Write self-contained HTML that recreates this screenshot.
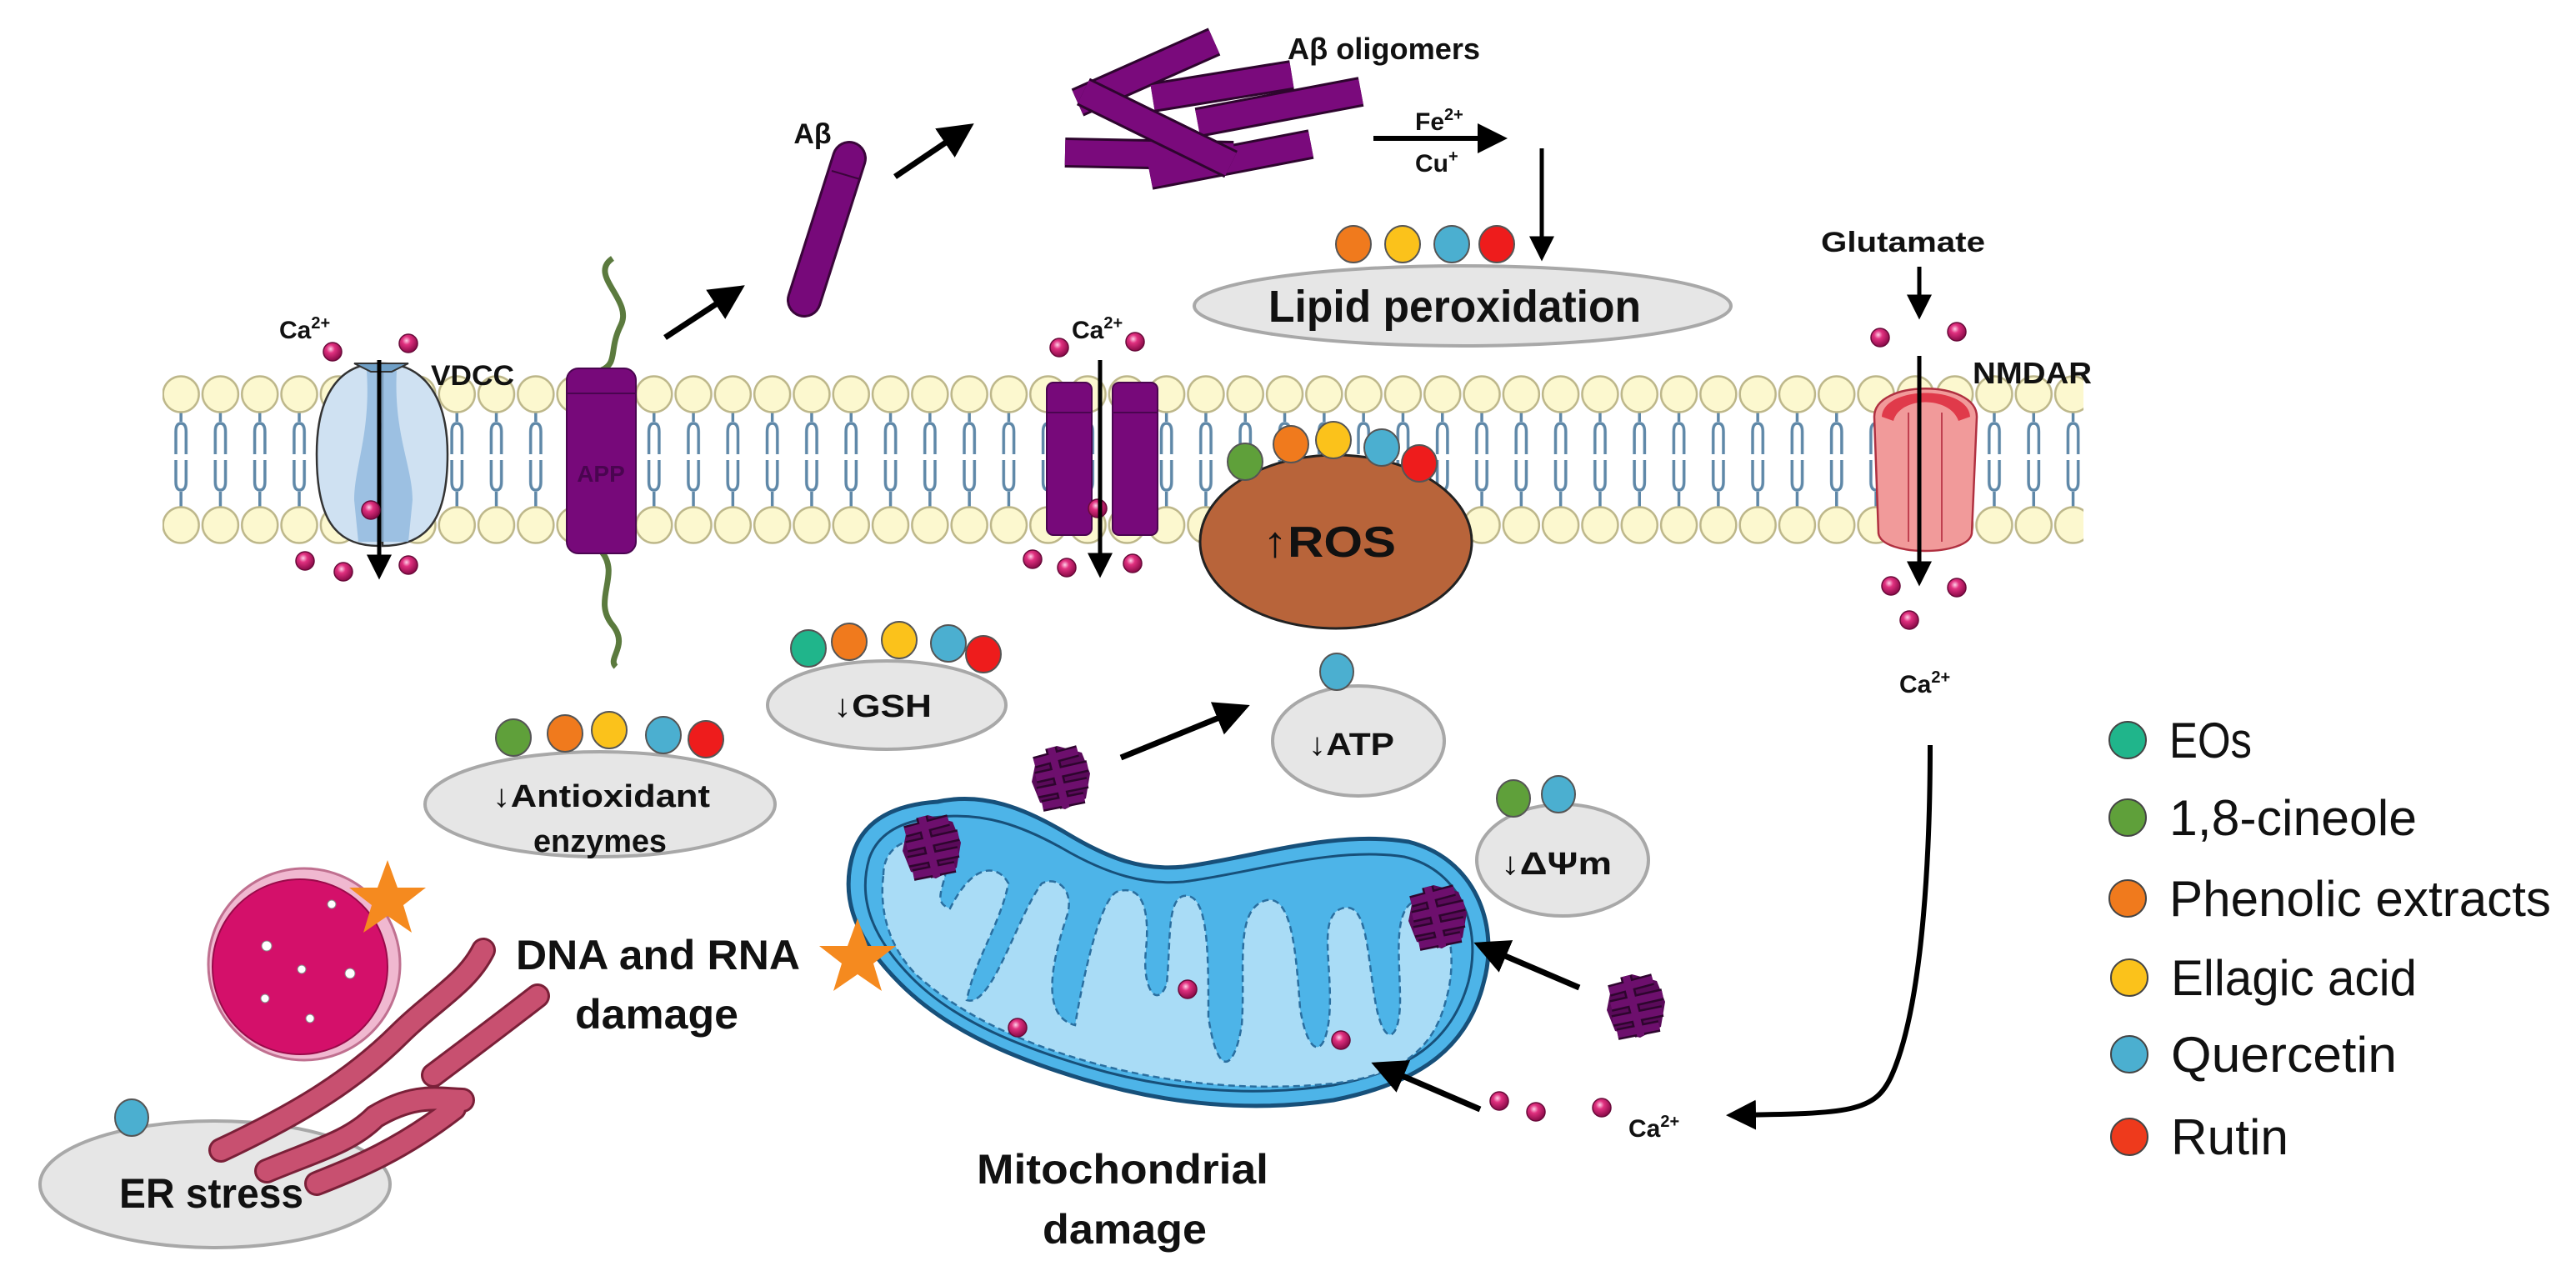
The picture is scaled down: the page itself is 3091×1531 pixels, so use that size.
<!DOCTYPE html>
<html><head><meta charset="utf-8"><style>
html,body{margin:0;padding:0;background:#fff}
svg{display:block}
text{font-family:"Liberation Sans",sans-serif;fill:#111}
.b{font-weight:bold}
</style></head><body>
<svg width="3091" height="1531" viewBox="0 0 3091 1531" xmlns="http://www.w3.org/2000/svg">
<defs>
<pattern id="mem" patternUnits="userSpaceOnUse" x="193.5" y="440" width="47.3" height="213">
<path d="M23.65,54 L23.65,66 M17.5,105 L17.5,78 Q17.5,68 23.65,68 Q29.8,68 29.8,78 L29.8,105 M17.5,112 L17.5,138 Q17.5,148 23.65,148 Q29.8,148 29.8,138 L29.8,112 M23.65,150 L23.65,168" fill="none" stroke="#5f88a8" stroke-width="3.5"/>
<circle cx="23.65" cy="33" r="21.5" fill="#fcf8cf" stroke="#bdb78a" stroke-width="2.5"/>
<circle cx="23.65" cy="190" r="21.5" fill="#fcf8cf" stroke="#bdb78a" stroke-width="2.5"/>
</pattern>
<marker id="ah" markerWidth="6" markerHeight="6" refX="4.5" refY="3" orient="auto" markerUnits="strokeWidth"><path d="M0,0 L6,3 L0,6 Z" fill="#000"/></marker>
<radialGradient id="ca" cx="40%" cy="35%" r="65%"><stop offset="0" stop-color="#ffd0e8"/><stop offset="0.35" stop-color="#e0307f"/><stop offset="1" stop-color="#8a0a48"/></radialGradient>
<g id="dot"><circle r="11" fill="url(#ca)" stroke="#6a0a3a" stroke-width="1.5"/></g>
<g id="olig">
<path d="M-30,-20 L-5,-38 L25,-30 L35,-5 L30,25 L5,38 L-25,30 L-35,5 Z" fill="#5a0a5a"/>
<g stroke="#2e052e" stroke-width="14" stroke-linecap="butt">
<line x1="-32" y1="-18" x2="20" y2="-32"/><line x1="-30" y1="0" x2="32" y2="-14"/><line x1="-28" y1="18" x2="32" y2="6"/><line x1="-22" y1="34" x2="28" y2="24"/><line x1="-12" y1="-36" x2="6" y2="36"/></g>
<g stroke="#6d0f6d" stroke-width="9">
<line x1="-32" y1="-18" x2="20" y2="-32"/><line x1="-30" y1="0" x2="32" y2="-14"/><line x1="-28" y1="18" x2="32" y2="6"/><line x1="-22" y1="34" x2="28" y2="24"/><line x1="-12" y1="-36" x2="6" y2="36"/></g>
</g>
</defs>

<!-- membrane -->
<rect x="195" y="440" width="2305" height="213" fill="url(#mem)"/>

<!-- VDCC -->
<path d="M455,436 C410,436 380,470 380,545 C380,620 400,655 455,655 Z" fill="#cfe1f2" stroke="#333" stroke-width="2.5"/>
<path d="M459,436 C504,436 537,470 537,545 C537,620 515,655 459,655 Z" fill="#cfe1f2" stroke="#333" stroke-width="2.5"/>
<path d="M440,445 C445,520 425,560 425,600 L430,650 L490,650 L495,600 C495,560 472,520 476,445 Z" fill="#8fb8dd" opacity="0.8"/>
<path d="M425,436 L490,436 L470,446 L445,446 Z" fill="#6f9fc6" stroke="#333" stroke-width="2"/>
<line x1="455" y1="432" x2="455" y2="688" stroke="#000" stroke-width="5" marker-end="url(#ah)"/>
<use href="#dot" x="445" y="612"/>
<use href="#dot" x="399" y="422"/><use href="#dot" x="490" y="412"/>
<use href="#dot" x="366" y="673"/><use href="#dot" x="412" y="686"/><use href="#dot" x="490" y="678"/>
<text x="335" y="406" class="b" font-size="30">Ca<tspan font-size="20" dy="-12">2+</tspan></text>
<text x="517" y="462" class="b" font-size="34" textLength="100" lengthAdjust="spacingAndGlyphs">VDCC</text>

<!-- APP -->
<path d="M735,310 C705,330 760,360 745,390 C730,420 742,435 722,444" fill="none" stroke="#5b7a3e" stroke-width="7"/>
<path d="M722,662 C745,690 710,720 735,750 C755,775 728,790 739,800" fill="none" stroke="#5b7a3e" stroke-width="7"/>
<rect x="680" y="442" width="83" height="222" rx="14" fill="#77097a" stroke="#4a0550" stroke-width="2"/>
<line x1="681" y1="472" x2="762" y2="472" stroke="#4a0550" stroke-width="2"/>
<text x="721" y="578" text-anchor="middle" class="b" font-size="28" style="fill:#4a0550">APP</text>

<!-- arrows top -->
<line x1="798" y1="405" x2="885" y2="348" stroke="#000" stroke-width="7" marker-end="url(#ah)"/>
<line x1="1074" y1="212" x2="1160" y2="154" stroke="#000" stroke-width="7" marker-end="url(#ah)"/>

<!-- Abeta monomer -->
<line x1="1019" y1="190" x2="965" y2="360" stroke="#3a053a" stroke-width="42" stroke-linecap="round"/>
<line x1="1019" y1="190" x2="965" y2="360" stroke="#77097a" stroke-width="36" stroke-linecap="round"/>
<line x1="998" y1="205" x2="1032" y2="215" stroke="#3a053a" stroke-width="2"/>
<text x="975" y="172" text-anchor="middle" class="b" font-size="34">Aβ</text>

<!-- oligomers -->
<g stroke-linecap="butt">
<g stroke="#2e052e" stroke-width="36">
<line x1="1293" y1="123" x2="1457" y2="50"/>
<line x1="1383" y1="117" x2="1550" y2="90"/>
<line x1="1437" y1="147" x2="1633" y2="110"/>
<line x1="1278" y1="183" x2="1480" y2="187"/>
<line x1="1380" y1="210" x2="1573" y2="173"/>
<line x1="1300" y1="110" x2="1477" y2="197"/>
</g>
<g stroke="#7a0a7c" stroke-width="30">
<line x1="1293" y1="123" x2="1457" y2="50"/>
<line x1="1383" y1="117" x2="1550" y2="90"/>
<line x1="1437" y1="147" x2="1633" y2="110"/>
<line x1="1278" y1="183" x2="1480" y2="187"/>
<line x1="1380" y1="210" x2="1573" y2="173"/>
</g>
<line x1="1300" y1="110" x2="1477" y2="197" stroke="#2e052e" stroke-width="36"/>
<line x1="1300" y1="110" x2="1477" y2="197" stroke="#7a0a7c" stroke-width="30"/>
</g>
<text x="1545" y="71" class="b" font-size="36" textLength="231" lengthAdjust="spacingAndGlyphs">Aβ oligomers</text>

<!-- Fe arrow -->
<line x1="1648" y1="166" x2="1800" y2="166" stroke="#000" stroke-width="6" marker-end="url(#ah)"/>
<text x="1698" y="156" class="b" font-size="30">Fe<tspan font-size="20" dy="-12">2+</tspan></text>
<text x="1698" y="206" class="b" font-size="30">Cu<tspan font-size="20" dy="-12">+</tspan></text>
<line x1="1850" y1="178" x2="1850" y2="306" stroke="#000" stroke-width="5" marker-end="url(#ah)"/>

<!-- lipid peroxidation -->
<ellipse cx="1755" cy="367" rx="322" ry="48" fill="#e6e6e6" stroke="#a8a8a8" stroke-width="4"/>
<text x="1522" y="386" class="b" font-size="54" textLength="447" lengthAdjust="spacingAndGlyphs">Lipid peroxidation</text>
<ellipse cx="1624" cy="293" rx="21" ry="22" fill="#f07a1d" stroke="#555" stroke-width="2"/>
<ellipse cx="1683" cy="293" rx="21" ry="22" fill="#fbc21b" stroke="#555" stroke-width="2"/>
<ellipse cx="1742" cy="293" rx="21" ry="22" fill="#4bafd0" stroke="#555" stroke-width="2"/>
<ellipse cx="1796" cy="293" rx="21" ry="22" fill="#ee1c1c" stroke="#555" stroke-width="2"/>

<!-- second channel -->
<rect x="1256" y="459" width="54" height="183" rx="8" fill="#77097a" stroke="#4a0550" stroke-width="2"/>
<rect x="1335" y="459" width="54" height="183" rx="8" fill="#77097a" stroke="#4a0550" stroke-width="2"/>
<line x1="1257" y1="495" x2="1309" y2="495" stroke="#4a0550" stroke-width="2"/>
<line x1="1336" y1="495" x2="1388" y2="495" stroke="#4a0550" stroke-width="2"/>
<use href="#dot" x="1317" y="610"/>
<line x1="1320" y1="432" x2="1320" y2="686" stroke="#000" stroke-width="5" marker-end="url(#ah)"/>
<use href="#dot" x="1271" y="417"/><use href="#dot" x="1362" y="410"/>
<use href="#dot" x="1239" y="671"/><use href="#dot" x="1280" y="681"/><use href="#dot" x="1359" y="676"/>
<text x="1286" y="406" class="b" font-size="30">Ca<tspan font-size="20" dy="-12">2+</tspan></text>

<!-- ROS -->
<ellipse cx="1603" cy="650" rx="163" ry="104" fill="#b8643a" stroke="#222" stroke-width="3"/>
<text x="1515" y="668" class="b" font-size="52" textLength="160" lengthAdjust="spacingAndGlyphs">↑ROS</text>
<ellipse cx="1494" cy="554" rx="21" ry="22" fill="#5fa03a" stroke="#555" stroke-width="2"/>
<ellipse cx="1549" cy="533" rx="21" ry="22" fill="#f07a1d" stroke="#555" stroke-width="2"/>
<ellipse cx="1600" cy="528" rx="21" ry="22" fill="#fbc21b" stroke="#555" stroke-width="2"/>
<ellipse cx="1658" cy="537" rx="21" ry="22" fill="#4bafd0" stroke="#555" stroke-width="2"/>
<ellipse cx="1703" cy="556" rx="21" ry="22" fill="#ee1c1c" stroke="#555" stroke-width="2"/>

<!-- NMDAR -->
<path d="M2249,500 C2249,455 2372,455 2372,500 L2366,640 C2362,668 2258,668 2254,640 Z" fill="#f19a9a" stroke="#b03040" stroke-width="2.5"/>
<path d="M2258,500 C2260,462 2362,462 2364,500 L2350,505 C2340,475 2280,475 2272,505 Z" fill="#e03a4a"/>
<line x1="2290" y1="495" x2="2290" y2="650" stroke="#c04050" stroke-width="2"/>
<line x1="2330" y1="495" x2="2330" y2="650" stroke="#c04050" stroke-width="2"/>
<line x1="2303" y1="427" x2="2303" y2="696" stroke="#000" stroke-width="5" marker-end="url(#ah)"/>
<text x="2185" y="302" class="b" font-size="34" textLength="197" lengthAdjust="spacingAndGlyphs">Glutamate</text>
<line x1="2303" y1="320" x2="2303" y2="376" stroke="#000" stroke-width="5" marker-end="url(#ah)"/>
<use href="#dot" x="2256" y="405"/><use href="#dot" x="2348" y="398"/>
<use href="#dot" x="2269" y="703"/><use href="#dot" x="2348" y="705"/><use href="#dot" x="2291" y="744"/>
<text x="2367" y="460" class="b" font-size="36" textLength="143" lengthAdjust="spacingAndGlyphs">NMDAR</text>
<text x="2279" y="831" class="b" font-size="30">Ca<tspan font-size="20" dy="-12">2+</tspan></text>

<!-- GSH -->
<ellipse cx="1064" cy="846" rx="143" ry="53" fill="#e6e6e6" stroke="#a8a8a8" stroke-width="4"/>
<text x="1000" y="860" class="b" font-size="38" textLength="118" lengthAdjust="spacingAndGlyphs">↓GSH</text>
<ellipse cx="970" cy="778" rx="21" ry="22" fill="#20b58b" stroke="#555" stroke-width="2"/>
<ellipse cx="1019" cy="770" rx="21" ry="22" fill="#f07a1d" stroke="#555" stroke-width="2"/>
<ellipse cx="1079" cy="768" rx="21" ry="22" fill="#fbc21b" stroke="#555" stroke-width="2"/>
<ellipse cx="1138" cy="772" rx="21" ry="22" fill="#4bafd0" stroke="#555" stroke-width="2"/>
<ellipse cx="1180" cy="785" rx="21" ry="22" fill="#ee1c1c" stroke="#555" stroke-width="2"/>

<!-- Antioxidant -->
<ellipse cx="720" cy="965" rx="210" ry="63" fill="#e6e6e6" stroke="#a8a8a8" stroke-width="4"/>
<text x="591" y="968" class="b" font-size="38" textLength="261" lengthAdjust="spacingAndGlyphs">↓Antioxidant</text>
<text x="640" y="1022" class="b" font-size="38" textLength="160" lengthAdjust="spacingAndGlyphs">enzymes</text>
<ellipse cx="616" cy="885" rx="21" ry="22" fill="#5fa03a" stroke="#555" stroke-width="2"/>
<ellipse cx="678" cy="880" rx="21" ry="22" fill="#f07a1d" stroke="#555" stroke-width="2"/>
<ellipse cx="731" cy="876" rx="21" ry="22" fill="#fbc21b" stroke="#555" stroke-width="2"/>
<ellipse cx="796" cy="882" rx="21" ry="22" fill="#4bafd0" stroke="#555" stroke-width="2"/>
<ellipse cx="847" cy="887" rx="21" ry="22" fill="#ee1c1c" stroke="#555" stroke-width="2"/>

<!-- ATP -->
<ellipse cx="1630" cy="889" rx="103" ry="66" fill="#e6e6e6" stroke="#a8a8a8" stroke-width="4"/>
<text x="1570" y="906" class="b" font-size="38" textLength="103" lengthAdjust="spacingAndGlyphs">↓ATP</text>
<ellipse cx="1604" cy="806" rx="20" ry="22" fill="#4bafd0" stroke="#555" stroke-width="2"/>
<line x1="1345" y1="909" x2="1490" y2="850" stroke="#000" stroke-width="7" marker-end="url(#ah)"/>
<use href="#olig" x="1273" y="933"/>

<!-- dPsi -->
<ellipse cx="1875" cy="1032" rx="103" ry="67" fill="#e6e6e6" stroke="#a8a8a8" stroke-width="4"/>
<text x="1801" y="1049" class="b" font-size="38" textLength="133" lengthAdjust="spacingAndGlyphs">↓ΔΨm</text>
<ellipse cx="1816" cy="958" rx="20" ry="22" fill="#5fa03a" stroke="#555" stroke-width="2"/>
<ellipse cx="1870" cy="953" rx="20" ry="22" fill="#4bafd0" stroke="#555" stroke-width="2"/>

<!-- mitochondrion -->
<path d="M1125,962 C1180,950 1230,970 1280,1000 C1330,1030 1370,1045 1420,1040 C1500,1030 1600,995 1690,1010 C1770,1030 1800,1110 1780,1180 C1760,1260 1700,1300 1600,1320 C1500,1335 1400,1325 1300,1295 C1200,1265 1130,1230 1080,1180 C1030,1130 1005,1080 1025,1020 C1040,980 1080,965 1125,962 Z" fill="#4db4e8" stroke="#17507a" stroke-width="5"/>
<path d="M1130,980 C1180,975 1225,990 1275,1018 C1330,1050 1375,1062 1420,1058 C1500,1048 1600,1015 1685,1028 C1755,1045 1778,1115 1762,1178 C1742,1250 1690,1285 1600,1302 C1500,1317 1400,1308 1305,1280 C1210,1252 1140,1220 1093,1172 C1050,1128 1028,1082 1043,1030 C1055,995 1090,983 1130,980 Z" fill="none" stroke="#17507a" stroke-width="3"/>
<path d="M1060,1050 C1060,1010 1100,1000 1130,1010 C1150,1050 1110,1080 1140,1090 C1170,1030 1200,1040 1210,1060 C1200,1110 1170,1150 1160,1200 C1190,1210 1220,1100 1250,1060 C1270,1050 1290,1070 1280,1100 C1260,1160 1250,1220 1290,1230 C1300,1170 1320,1080 1340,1070 C1370,1060 1380,1090 1375,1140 C1370,1190 1390,1210 1400,1180 C1405,1130 1400,1080 1420,1075 C1450,1070 1450,1140 1450,1220 C1460,1290 1480,1290 1490,1230 C1495,1160 1480,1090 1520,1080 C1550,1075 1555,1140 1560,1210 C1570,1270 1590,1270 1595,1220 C1600,1160 1580,1100 1610,1090 C1640,1080 1640,1140 1650,1200 C1660,1260 1680,1250 1680,1200 C1680,1150 1670,1090 1700,1080 C1740,1080 1750,1150 1735,1200 C1720,1260 1680,1290 1600,1300 C1500,1310 1400,1300 1310,1275 C1220,1250 1150,1215 1100,1170 C1065,1135 1055,1090 1060,1050 Z" fill="#a9dcf6" stroke="#2a6fa0" stroke-width="2.5" stroke-dasharray="8 5"/>
<use href="#olig" x="1118" y="1016"/>
<use href="#olig" x="1725" y="1100"/>
<use href="#dot" x="1425" y="1187"/><use href="#dot" x="1221" y="1233"/><use href="#dot" x="1609" y="1248"/>
<line x1="1895" y1="1185" x2="1778" y2="1135" stroke="#000" stroke-width="7" marker-end="url(#ah)"/>
<use href="#olig" x="1963" y="1207"/>
<line x1="1776" y1="1331" x2="1655" y2="1279" stroke="#000" stroke-width="7" marker-end="url(#ah)"/>
<use href="#dot" x="1799" y="1321"/><use href="#dot" x="1843" y="1334"/><use href="#dot" x="1922" y="1329"/>
<text x="1954" y="1364" class="b" font-size="30">Ca<tspan font-size="20" dy="-12">2+</tspan></text>
<path d="M2316,894 C2316,1000 2310,1200 2270,1290 C2250,1335 2220,1336 2080,1338" fill="none" stroke="#000" stroke-width="6" marker-end="url(#ah)"/>

<!-- stars -->
<polygon points="0,-48 12,-15 46,-15 19,6 29,39 0,19 -29,39 -19,6 -46,-15 -12,-15" transform="translate(1029,1150)" fill="#f58a1f"/>

<text x="619" y="1163" class="b" font-size="50" textLength="341" lengthAdjust="spacingAndGlyphs">DNA and RNA</text>
<text x="690" y="1234" class="b" font-size="50" textLength="196" lengthAdjust="spacingAndGlyphs">damage</text>
<text x="1172" y="1420" class="b" font-size="50" textLength="350" lengthAdjust="spacingAndGlyphs">Mitochondrial</text>
<text x="1251" y="1492" class="b" font-size="50" textLength="197" lengthAdjust="spacingAndGlyphs">damage</text>

<!-- nucleus -->
<circle cx="365" cy="1157" r="115" fill="#f0b8d0" stroke="#c07090" stroke-width="3"/>
<circle cx="360" cy="1160" r="105" fill="#d4106a" stroke="#9a0a4a" stroke-width="2"/>
<g fill="#fff" stroke="#888" stroke-width="1"><circle cx="320" cy="1135" r="6"/><circle cx="362" cy="1163" r="5"/><circle cx="420" cy="1168" r="6"/><circle cx="318" cy="1198" r="5"/><circle cx="372" cy="1222" r="5"/><circle cx="398" cy="1085" r="5"/></g>
<polygon points="0,-48 12,-15 46,-15 19,6 29,39 0,19 -29,39 -19,6 -46,-15 -12,-15" transform="translate(465,1080)" fill="#f58a1f"/>

<!-- ER stress -->
<ellipse cx="258" cy="1421" rx="210" ry="76" fill="#e6e6e6" stroke="#a8a8a8" stroke-width="4"/>
<text x="143" y="1449" class="b" font-size="50" textLength="221" lengthAdjust="spacingAndGlyphs">ER stress</text>
<ellipse cx="158" cy="1341" rx="20" ry="22" fill="#4bafd0" stroke="#555" stroke-width="2"/>
<g fill="none" stroke-linecap="round">
<g stroke="#7a2038" stroke-width="30"><path d="M265,1380 C350,1340 420,1300 480,1240 C520,1200 560,1180 580,1140"/><path d="M520,1290 C560,1260 600,1230 645,1195"/><path d="M320,1405 C380,1380 420,1370 450,1340 C500,1310 530,1320 555,1320"/><path d="M380,1420 C430,1400 480,1380 545,1330"/></g>
<g stroke="#c85070" stroke-width="24"><path d="M265,1380 C350,1340 420,1300 480,1240 C520,1200 560,1180 580,1140"/><path d="M520,1290 C560,1260 600,1230 645,1195"/><path d="M320,1405 C380,1380 420,1370 450,1340 C500,1310 530,1320 555,1320"/><path d="M380,1420 C430,1400 480,1380 545,1330"/></g>
</g>

<!-- legend -->
<circle cx="2553" cy="888" r="22" fill="#20b58b" stroke="#444" stroke-width="2"/>
<circle cx="2553" cy="981" r="22" fill="#5fa03a" stroke="#444" stroke-width="2"/>
<circle cx="2553" cy="1078" r="22" fill="#f07a1d" stroke="#444" stroke-width="2"/>
<circle cx="2555" cy="1173" r="22" fill="#fbc21b" stroke="#444" stroke-width="2"/>
<circle cx="2555" cy="1265" r="22" fill="#4bafd0" stroke="#444" stroke-width="2"/>
<circle cx="2555" cy="1364" r="22" fill="#ee3a1c" stroke="#444" stroke-width="2"/>
<g font-size="60">
<text x="2603" y="909" textLength="99" lengthAdjust="spacingAndGlyphs">EOs</text>
<text x="2603" y="1002" textLength="297" lengthAdjust="spacingAndGlyphs">1,8-cineole</text>
<text x="2603" y="1099" textLength="458" lengthAdjust="spacingAndGlyphs">Phenolic extracts</text>
<text x="2605" y="1194" textLength="295" lengthAdjust="spacingAndGlyphs">Ellagic acid</text>
<text x="2605" y="1286" textLength="271" lengthAdjust="spacingAndGlyphs">Quercetin</text>
<text x="2605" y="1385" textLength="141" lengthAdjust="spacingAndGlyphs">Rutin</text>
</g>
</svg>
</body></html>
